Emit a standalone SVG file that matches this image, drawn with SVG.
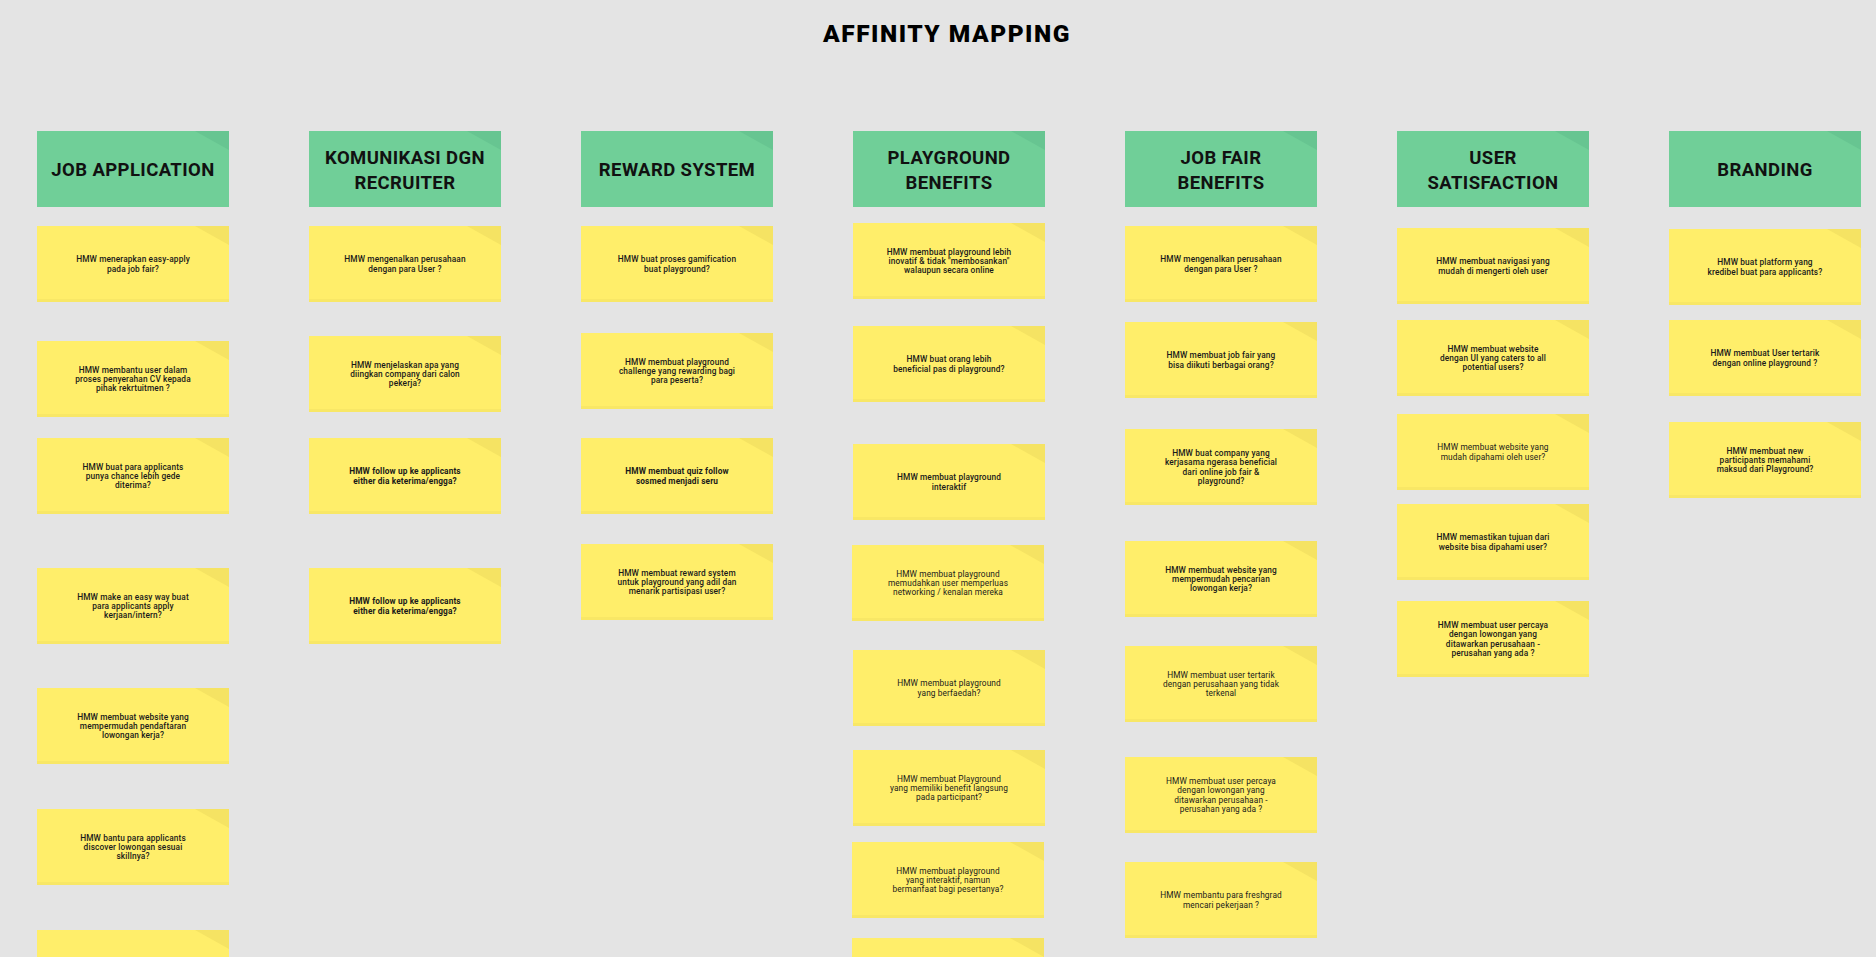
<svg xmlns="http://www.w3.org/2000/svg" width="1876" height="957" viewBox="0 0 1876 957">
<style>
.bg{fill:#e4e4e4}
.hd{fill:#70cf98}
.hdf{fill:#67c591}
.st{fill:#ffee6a}
.stb{fill:#f8e766}
.stf{fill:#f5e363}
.ht{font-family:Roboto,"Liberation Sans",sans-serif;font-weight:700;font-size:18.5px;fill:#111;text-anchor:middle;letter-spacing:0.4px}
.t{font-family:Roboto,"Liberation Sans",sans-serif;font-weight:500;font-size:8.3px;fill:#1a1a1a;text-anchor:middle;letter-spacing:0.12px}
.b{font-weight:700}
.l{font-weight:400}
.title{font-family:Roboto,"Liberation Sans",sans-serif;font-weight:900;font-size:24.5px;fill:#000;text-anchor:middle;letter-spacing:1.5px}
</style>
<defs>
<g id="sticky"><rect class="st" width="192" height="76"/><rect class="stb" y="73" width="192" height="3"/><polygon class="stf" points="158,0 192,0 192,19"/></g>
<g id="header"><rect class="hd" width="192" height="76"/><polygon class="hdf" points="158,0 192,0 192,19"/></g>
</defs>
<rect class="bg" width="1876" height="957"/>
<text id="title" class="title" x="947" y="42">AFFINITY MAPPING</text>

<g id="h1" transform="translate(37,131)"><use href="#header"/><text class="ht" x="96" y="45">JOB APPLICATION</text></g>
<g id="h2" transform="translate(309,131)"><use href="#header"/><text class="ht"><tspan x="96" y="32.5">KOMUNIKASI DGN</tspan><tspan x="96" y="57.5">RECRUITER</tspan></text></g>
<g id="h3" transform="translate(581,131)"><use href="#header"/><text class="ht" x="96" y="45">REWARD SYSTEM</text></g>
<g id="h4" transform="translate(853,131)"><use href="#header"/><text class="ht"><tspan x="96" y="32.5">PLAYGROUND</tspan><tspan x="96" y="57.5">BENEFITS</tspan></text></g>
<g id="h5" transform="translate(1125,131)"><use href="#header"/><text class="ht"><tspan x="96" y="32.5">JOB FAIR</tspan><tspan x="96" y="57.5">BENEFITS</tspan></text></g>
<g id="h6" transform="translate(1397,131)"><use href="#header"/><text class="ht"><tspan x="96" y="32.5">USER</tspan><tspan x="96" y="57.5">SATISFACTION</tspan></text></g>
<g id="h7" transform="translate(1669,131)"><use href="#header"/><text class="ht" x="96" y="45">BRANDING</text></g>

<g id="c1s1" transform="translate(37,226)"><use href="#sticky"/><text class="t"><tspan x="96" y="36.4">HMW menerapkan easy-apply</tspan><tspan x="96" y="45.7">pada job fair?</tspan></text></g>
<g id="c1s2" transform="translate(37,341)"><use href="#sticky"/><text class="t"><tspan x="96" y="31.7">HMW membantu user dalam</tspan><tspan x="96" y="41">proses penyerahan CV kepada</tspan><tspan x="96" y="50.3">pihak rekrtuitmen ?</tspan></text></g>
<g id="c1s3" transform="translate(37,438)"><use href="#sticky"/><text class="t"><tspan x="96" y="31.7">HMW buat para applicants</tspan><tspan x="96" y="41">punya chance lebih gede</tspan><tspan x="96" y="50.3">diterima?</tspan></text></g>
<g id="c1s4" transform="translate(37,568)"><use href="#sticky"/><text class="t"><tspan x="96" y="31.7">HMW make an easy way buat</tspan><tspan x="96" y="41">para applicants apply</tspan><tspan x="96" y="50.3">kerjaan/intern?</tspan></text></g>
<g id="c1s5" transform="translate(37,688)"><use href="#sticky"/><text class="t"><tspan x="96" y="31.7">HMW membuat website yang</tspan><tspan x="96" y="41">mempermudah pendaftaran</tspan><tspan x="96" y="50.3">lowongan kerja?</tspan></text></g>
<g id="c1s6" transform="translate(37,809)"><use href="#sticky"/><text class="t"><tspan x="96" y="31.7">HMW bantu para applicants</tspan><tspan x="96" y="41">discover lowongan sesuai</tspan><tspan x="96" y="50.3">skillnya?</tspan></text></g>
<g id="c1s7" transform="translate(37,930)"><use href="#sticky"/></g>

<g id="c2s1" transform="translate(309,226)"><use href="#sticky"/><text class="t"><tspan x="96" y="36.4">HMW mengenalkan perusahaan</tspan><tspan x="96" y="45.7">dengan para User ?</tspan></text></g>
<g id="c2s2" transform="translate(309,336)"><use href="#sticky"/><text class="t"><tspan x="96" y="31.7">HMW menjelaskan apa yang</tspan><tspan x="96" y="41">diingkan company dari calon</tspan><tspan x="96" y="50.3">pekerja?</tspan></text></g>
<g id="c2s3" transform="translate(309,438)"><use href="#sticky"/><text class="t b"><tspan x="96" y="36.4">HMW follow up ke applicants</tspan><tspan x="96" y="45.7">either dia keterima/engga?</tspan></text></g>
<g id="c2s4" transform="translate(309,568)"><use href="#sticky"/><text class="t b"><tspan x="96" y="36.4">HMW follow up ke applicants</tspan><tspan x="96" y="45.7">either dia keterima/engga?</tspan></text></g>

<g id="c3s1" transform="translate(581,226)"><use href="#sticky"/><text class="t"><tspan x="96" y="36.4">HMW buat proses gamification</tspan><tspan x="96" y="45.7">buat playground?</tspan></text></g>
<g id="c3s2" transform="translate(581,333)"><use href="#sticky"/><text class="t"><tspan x="96" y="31.7">HMW membuat playground</tspan><tspan x="96" y="41">challenge yang rewarding bagi</tspan><tspan x="96" y="50.3">para peserta?</tspan></text></g>
<g id="c3s3" transform="translate(581,438)"><use href="#sticky"/><text class="t b"><tspan x="96" y="36.4">HMW membuat quiz follow</tspan><tspan x="96" y="45.7">sosmed menjadi seru</tspan></text></g>
<g id="c3s4" transform="translate(581,544)"><use href="#sticky"/><text class="t"><tspan x="96" y="31.7">HMW membuat reward system</tspan><tspan x="96" y="41">untuk playground yang adil dan</tspan><tspan x="96" y="50.3">menarik partisipasi user?</tspan></text></g>

<g id="c4s1" transform="translate(853,223)"><use href="#sticky"/><text class="t"><tspan x="96" y="31.7">HMW membuat playground lebih</tspan><tspan x="96" y="41">inovatif &amp; tidak "membosankan"</tspan><tspan x="96" y="50.3">walaupun secara online</tspan></text></g>
<g id="c4s2" transform="translate(853,326)"><use href="#sticky"/><text class="t"><tspan x="96" y="36.4">HMW buat orang lebih</tspan><tspan x="96" y="45.7">beneficial pas di playground?</tspan></text></g>
<g id="c4s3" transform="translate(853,444)"><use href="#sticky"/><text class="t"><tspan x="96" y="36.4">HMW membuat playground</tspan><tspan x="96" y="45.7">interaktif</tspan></text></g>
<g id="c4s4" transform="translate(852,545)"><use href="#sticky"/><text class="t l"><tspan x="96" y="31.7">HMW membuat playground</tspan><tspan x="96" y="41">memudahkan user memperluas</tspan><tspan x="96" y="50.3">networking / kenalan mereka</tspan></text></g>
<g id="c4s5" transform="translate(853,650)"><use href="#sticky"/><text class="t l"><tspan x="96" y="36.4">HMW membuat playground</tspan><tspan x="96" y="45.7">yang berfaedah?</tspan></text></g>
<g id="c4s6" transform="translate(853,750)"><use href="#sticky"/><text class="t l"><tspan x="96" y="31.7">HMW membuat Playground</tspan><tspan x="96" y="41">yang memiliki benefit langsung</tspan><tspan x="96" y="50.3">pada participant?</tspan></text></g>
<g id="c4s7" transform="translate(852,842)"><use href="#sticky"/><text class="t l"><tspan x="96" y="31.7">HMW membuat playground</tspan><tspan x="96" y="41">yang interaktif, namun</tspan><tspan x="96" y="50.3">bermanfaat bagi pesertanya?</tspan></text></g>
<g id="c4s8" transform="translate(852,938)"><use href="#sticky"/></g>

<g id="c5s1" transform="translate(1125,226)"><use href="#sticky"/><text class="t"><tspan x="96" y="36.4">HMW mengenalkan perusahaan</tspan><tspan x="96" y="45.7">dengan para User ?</tspan></text></g>
<g id="c5s2" transform="translate(1125,322)"><use href="#sticky"/><text class="t"><tspan x="96" y="36.4">HMW membuat job fair yang</tspan><tspan x="96" y="45.7">bisa diikuti berbagai orang?</tspan></text></g>
<g id="c5s3" transform="translate(1125,429)"><use href="#sticky"/><text class="t"><tspan x="96" y="27.1">HMW buat company yang</tspan><tspan x="96" y="36.4">kerjasama ngerasa beneficial</tspan><tspan x="96" y="45.7">dari online job fair &amp;</tspan><tspan x="96" y="55">playground?</tspan></text></g>
<g id="c5s4" transform="translate(1125,541)"><use href="#sticky"/><text class="t"><tspan x="96" y="31.7">HMW membuat website yang</tspan><tspan x="96" y="41">mempermudah pencarian</tspan><tspan x="96" y="50.3">lowongan kerja?</tspan></text></g>
<g id="c5s5" transform="translate(1125,646)"><use href="#sticky"/><text class="t l"><tspan x="96" y="31.7">HMW membuat user tertarik</tspan><tspan x="96" y="41">dengan perusahaan yang tidak</tspan><tspan x="96" y="50.3">terkenal</tspan></text></g>
<g id="c5s6" transform="translate(1125,757)"><use href="#sticky"/><text class="t l"><tspan x="96" y="27.1">HMW membuat user percaya</tspan><tspan x="96" y="36.4">dengan lowongan yang</tspan><tspan x="96" y="45.7">ditawarkan perusahaan -</tspan><tspan x="96" y="55">perusahan yang ada ?</tspan></text></g>
<g id="c5s7" transform="translate(1125,862)"><use href="#sticky"/><text class="t l"><tspan x="96" y="36.4">HMW membantu para freshgrad</tspan><tspan x="96" y="45.7">mencari pekerjaan ?</tspan></text></g>

<g id="c6s1" transform="translate(1397,228)"><use href="#sticky"/><text class="t"><tspan x="96" y="36.4">HMW membuat navigasi yang</tspan><tspan x="96" y="45.7">mudah di mengerti oleh user</tspan></text></g>
<g id="c6s2" transform="translate(1397,320)"><use href="#sticky"/><text class="t"><tspan x="96" y="31.7">HMW membuat website</tspan><tspan x="96" y="41">dengan UI yang caters to all</tspan><tspan x="96" y="50.3">potential users?</tspan></text></g>
<g id="c6s3" transform="translate(1397,414)"><use href="#sticky"/><text class="t l"><tspan x="96" y="36.4">HMW membuat website yang</tspan><tspan x="96" y="45.7">mudah dipahami oleh user?</tspan></text></g>
<g id="c6s4" transform="translate(1397,504)"><use href="#sticky"/><text class="t"><tspan x="96" y="36.4">HMW memastikan tujuan dari</tspan><tspan x="96" y="45.7">website bisa dipahami user?</tspan></text></g>
<g id="c6s5" transform="translate(1397,601)"><use href="#sticky"/><text class="t"><tspan x="96" y="27.1">HMW membuat user percaya</tspan><tspan x="96" y="36.4">dengan lowongan yang</tspan><tspan x="96" y="45.7">ditawarkan perusahaan -</tspan><tspan x="96" y="55">perusahan yang ada ?</tspan></text></g>

<g id="c7s1" transform="translate(1669,229)"><use href="#sticky"/><text class="t"><tspan x="96" y="36.4">HMW buat platform yang</tspan><tspan x="96" y="45.7">kredibel buat para applicants?</tspan></text></g>
<g id="c7s2" transform="translate(1669,320)"><use href="#sticky"/><text class="t"><tspan x="96" y="36.4">HMW membuat User tertarik</tspan><tspan x="96" y="45.7">dengan online playground ?</tspan></text></g>
<g id="c7s3" transform="translate(1669,422)"><use href="#sticky"/><text class="t"><tspan x="96" y="31.7">HMW membuat new</tspan><tspan x="96" y="41">participants memahami</tspan><tspan x="96" y="50.3">maksud dari Playground?</tspan></text></g>
</svg>
